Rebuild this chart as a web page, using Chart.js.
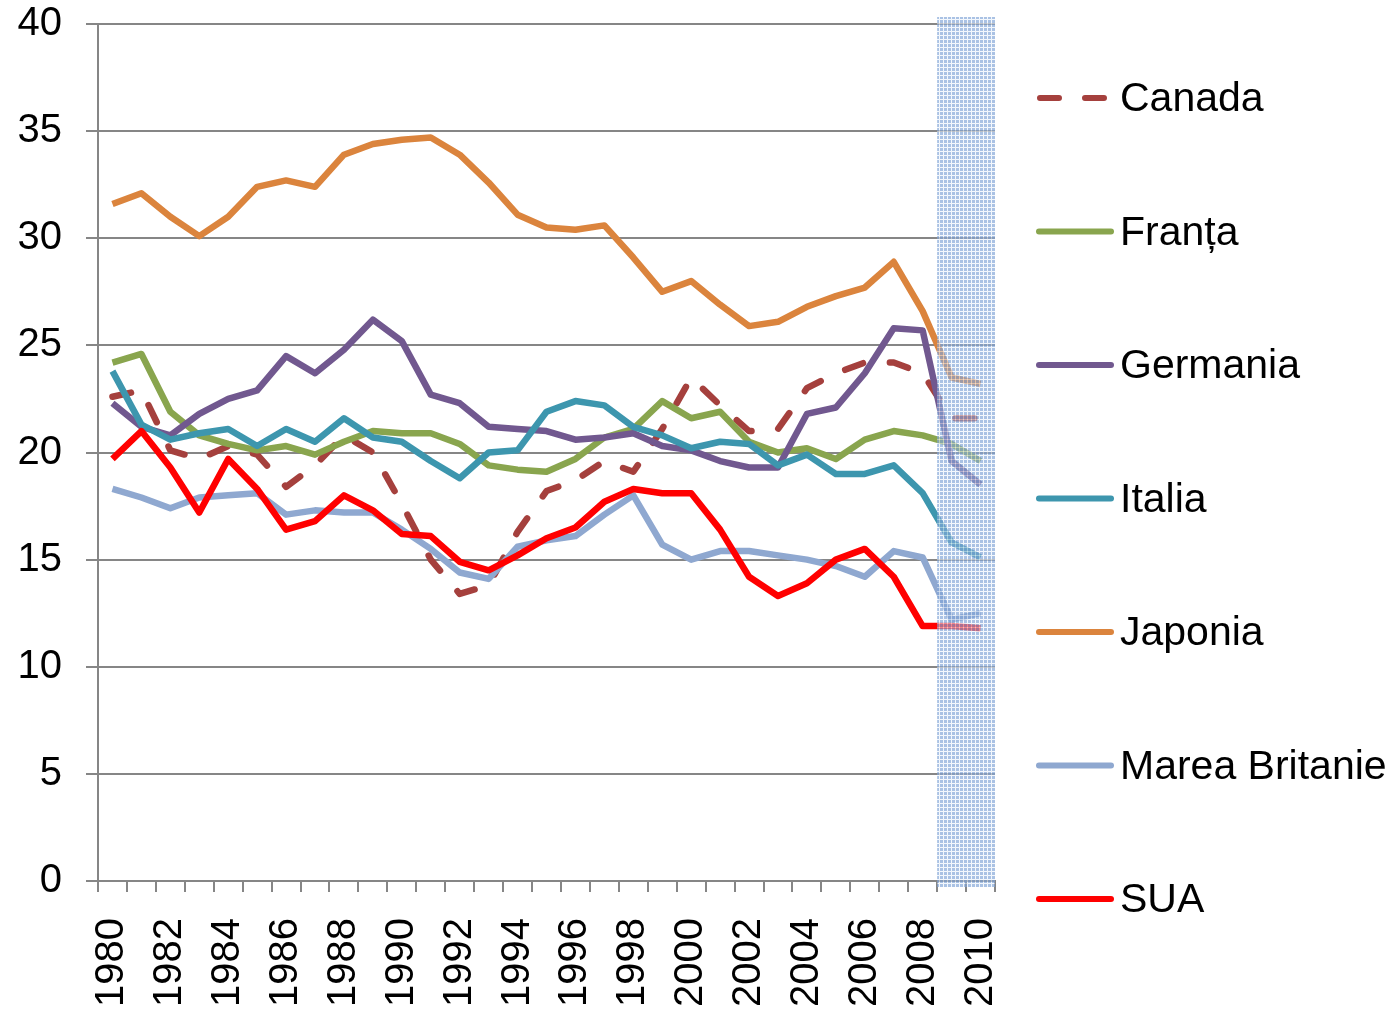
<!DOCTYPE html>
<html>
<head>
<meta charset="utf-8">
<script src="https://cdn.jsdelivr.net/npm/chart.js@4.4.0/dist/chart.umd.min.js"></script>
<style>
  body { margin: 0; background: #fff; }
  canvas { display: block; }
</style>
</head>
<body>
<canvas id="chart" width="1392" height="1009"></canvas>
<script>
// Data
const years = [];
for (let y = 1980; y <= 2010; y++) years.push(String(y));

const canada  = [22.6,22.9,20.1,19.7,20.3,19.9,18.4,19.4,20.8,20.0,17.6,15.0,13.4,13.8,16.3,18.2,18.7,19.6,19.1,21.1,23.5,22.2,21.0,21.1,23.0,23.7,24.2,24.2,23.7,21.6,21.6];
const franta  = [24.2,24.6,21.9,20.8,20.4,20.1,20.3,19.9,20.5,21.0,20.9,20.9,20.4,19.4,19.2,19.1,19.7,20.7,21.1,22.4,21.6,21.9,20.5,20.0,20.2,19.7,20.6,21.0,20.8,20.4,19.6];
const germania = [22.3,21.2,20.8,21.8,22.5,22.9,24.5,23.7,24.8,26.2,25.2,22.7,22.3,21.2,21.1,21.0,20.6,20.7,20.9,20.3,20.1,19.6,19.3,19.3,21.8,22.1,23.7,25.8,25.7,19.6,18.5];
const italia  = [23.8,21.3,20.6,20.9,21.1,20.3,21.1,20.5,21.6,20.7,20.5,19.6,18.8,20.0,20.1,21.9,22.4,22.2,21.2,20.8,20.2,20.5,20.4,19.4,19.9,19.0,19.0,19.4,18.1,15.8,15.1];
const japonia = [31.6,32.1,31.0,30.1,31.0,32.4,32.7,32.4,33.9,34.4,34.6,34.7,33.9,32.6,31.1,30.5,30.4,30.6,29.1,27.5,28.0,26.9,25.9,26.1,26.8,27.3,27.7,28.9,26.6,23.5,23.2];
const mareaBritanie = [18.3,17.9,17.4,17.9,18.0,18.1,17.1,17.3,17.2,17.2,16.4,15.5,14.4,14.1,15.6,15.9,16.1,17.1,18.0,15.7,15.0,15.4,15.4,15.2,15.0,14.7,14.2,15.4,15.1,12.2,12.5];
const sua     = [19.7,21.0,19.3,17.2,19.7,18.3,16.4,16.8,18.0,17.3,16.2,16.1,14.9,14.5,15.2,16.0,16.5,17.7,18.3,18.1,18.1,16.4,14.2,13.3,13.9,15.0,15.5,14.2,11.9,11.9,11.8];

const seriesNames = ['Canada', 'Franța', 'Germania', 'Italia', 'Japonia', 'Marea Britanie', 'SUA'];
const seriesData = [canada, franta, germania, italia, japonia, mareaBritanie, sua];
const seriesColors = ['#A5403D', '#89A54E', '#71588F', '#3D96AE', '#DB843D', '#8FA8D0', '#FF0000'];
const shadedFrom = '2009';

const FONT = "'Liberation Sans', Arial, sans-serif";

const datasets = seriesNames.map((name, i) => ({
    label: name,
    data: seriesData[i],
    borderColor: seriesColors[i],
    backgroundColor: seriesColors[i],
    borderWidth: 6.5,
    borderDash: i === 0 ? [19, 27] : [],
    borderCapStyle: i === 0 ? 'round' : 'butt',
    borderJoinStyle: 'round',
    pointRadius: 0,
    tension: 0,
    order: seriesNames.length - i
}));

// hatch tile for the forecast band
function makeHatch() {
    const c = document.createElement('canvas');
    c.width = 4; c.height = 4;
    const g = c.getContext('2d');
    g.fillStyle = 'rgba(130,165,215,0.68)';
    g.fillRect(0, 0, 4, 4);
    g.clearRect(3, 0, 1, 4);
    g.clearRect(0, 3, 4, 1);
    g.fillStyle = 'rgba(235,242,252,0.55)';
    g.fillRect(3, 0, 1, 4);
    g.fillRect(0, 3, 4, 1);
    return c;
}

const bandPlugin = {
    id: 'band',
    afterDatasetsDraw(chart) {
        const { ctx, chartArea, scales } = chart;
        const idx = years.indexOf(shadedFrom);
        const x0 = (scales.x.getPixelForValue(idx - 1) + scales.x.getPixelForValue(idx)) / 2;
        ctx.save();
        ctx.fillStyle = ctx.createPattern(makeHatch(), 'repeat');
        ctx.fillRect(x0, chartArea.top - 7, chartArea.right - x0, chartArea.bottom - chartArea.top + 13);
        ctx.restore();
    }
};

const legendPlugin = {
    id: 'sideLegend',
    afterDraw(chart) {
        const ctx = chart.ctx;
        ctx.save();
        chart.data.datasets.forEach((ds, i) => {
            const y = 98 + i * 133.5;
            ctx.strokeStyle = ds.borderColor;
            ctx.lineWidth = 6;
            ctx.lineCap = 'round';
            ctx.setLineDash(ds.borderDash.length ? [19, 26] : []);
            ctx.beginPath();
            ctx.moveTo(ds.borderDash.length ? 1040 : 1039, y);
            ctx.lineTo(1111, y);
            ctx.stroke();
            ctx.setLineDash([]);
            ctx.fillStyle = '#000';
            ctx.font = '41px ' + FONT;
            ctx.textBaseline = 'middle';
            ctx.fillText(ds.label, 1120, y + 2);
        });
        ctx.restore();
    }
};

new Chart(document.getElementById('chart'), {
    type: 'line',
    data: { labels: years, datasets: datasets },
    options: {
        responsive: false,
        animation: false,
        layout: { padding: { top: 24, right: 397, left: 0, bottom: 0 } },
        plugins: { legend: { display: false }, tooltip: { enabled: false } },
        scales: {
            x: {
                offset: true,
                afterFit(scale) { scale.height = 128; },
                grid: { offset: true, drawOnChartArea: false, color: '#868686', lineWidth: 2, tickLength: 11 },
                border: { color: '#868686', width: 2 },
                ticks: {
                    autoSkip: false, minRotation: 90, maxRotation: 90, padding: 26,
                    color: '#000', font: { family: FONT, size: 40 },
                    callback(v, i) { return i % 2 === 0 ? years[i] : ''; }
                }
            },
            y: {
                min: 0, max: 40,
                afterFit(scale) { scale.width = 98; scale.paddingTop = 0; scale.paddingBottom = 0; },
                grid: { color: '#868686', lineWidth: 2, tickLength: 12 },
                border: { color: '#868686', width: 2 },
                ticks: { stepSize: 5, padding: 24, color: '#000', font: { family: FONT, size: 40 } }
            }
        }
    },
    plugins: [bandPlugin, legendPlugin]
});
</script>
</body>
</html>
